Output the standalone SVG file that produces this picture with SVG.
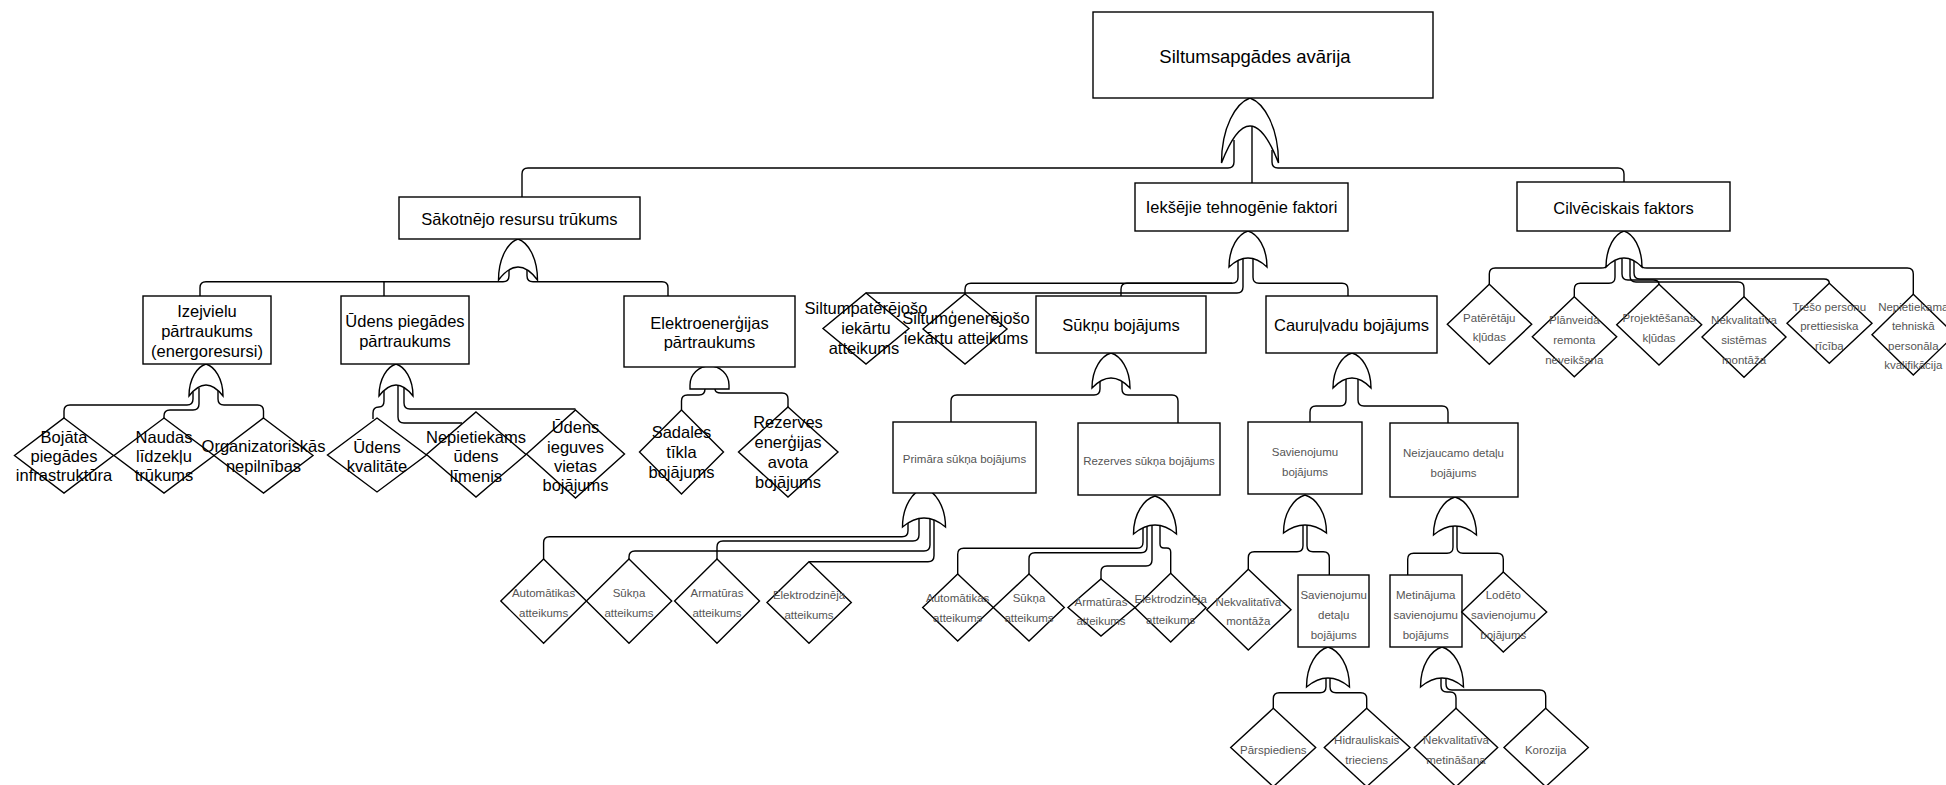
<svg xmlns="http://www.w3.org/2000/svg" width="1946" height="785" viewBox="0 0 1946 785">
<style>
.n{fill:#fff;stroke:#000;stroke-width:1.4}
.e{fill:none;stroke:#000;stroke-width:1.4}
.L{font-family:"Liberation Sans",Arial,sans-serif;font-size:16.5px;text-anchor:middle;fill:#000}
.S{font-family:"Liberation Sans",Arial,sans-serif;font-size:11.5px;text-anchor:middle;fill:#555}
</style>
<rect width="1946" height="785" fill="#fff"/>
<g id="connectors">
<path class="e" d="M522 197V174Q522 168 528 168H1228Q1234 168 1234 162V140"/>
<path class="e" d="M1252 126V183"/>
<path class="e" d="M1272 150V162Q1272 168 1278 168H1618Q1624 168 1624 174V182"/>
<path class="e" d="M200 296V287.7Q200 281.7 206 281.7H503Q509 281.7 509 275.7V270"/>
<path class="e" d="M384 296V281.7"/>
<path class="e" d="M527 270V275.7Q527 281.7 533 281.7H662Q668 281.7 668 287.7V296"/>
<path class="e" d="M64 418V411Q64 405 70 405H187Q193 405 193 399V392"/>
<path class="e" d="M164 418V416Q164 410 170 410H193Q199 410 199 404V388"/>
<path class="e" d="M263.5 418V411Q263.5 405 257.5 405H224Q218 405 218 399V391"/>
<path class="e" d="M373 419V413Q373 407 379 407Q384 407 384 401V391"/>
<path class="e" d="M398 386V417Q398 423 404 423H462"/>
<path class="e" d="M404 387V403Q404 409 410 409H575.5"/>
<path class="e" d="M705 389Q705 395 699 395H687.5Q681.5 395 681.5 401V410"/>
<path class="e" d="M715 389Q715 393 721 393H782Q788 393 788 399V407"/>
<path class="e" d="M866 293H1237Q1243 293 1243 287V259"/>
<path class="e" d="M965 294V289.3Q965 283.3 971 283.3H1232Q1238 283.3 1238 277.3V260"/>
<path class="e" d="M1121 296V289.3Q1121 283.3 1127 283.3H1232"/>
<path class="e" d="M1253 259V277.3Q1253 283.3 1259 283.3H1342Q1348 283.3 1348 289.3V296"/>
<path class="e" d="M1489.3 284.3V274Q1489.3 268 1495.3 268H1601Q1607 268 1607 265"/>
<path class="e" d="M1574.3 296.7V289.3Q1574.3 283.3 1580.3 283.3H1609Q1615 283.3 1615 277.3V261"/>
<path class="e" d="M1659 284.3Q1659 280 1653 280H1628Q1622 280 1622 274V259"/>
<path class="e" d="M1744 296.7V288Q1744 282 1738 282H1636Q1630 282 1630 276V259"/>
<path class="e" d="M1829.3 283.3Q1829.3 279 1824 279H1640Q1634 279 1634 273V261"/>
<path class="e" d="M1913.3 294.3V274Q1913.3 268 1907.3 268H1647Q1641 268 1641 265"/>
<path class="e" d="M1100 381V389Q1100 395 1094 395H957Q951 395 951 401V422"/>
<path class="e" d="M1122 381V389Q1122 395 1128 395H1172Q1178 395 1178 401V423"/>
<path class="e" d="M1346 379V400Q1346 406 1340 406H1316Q1310 406 1310 412V422"/>
<path class="e" d="M1358 379V400Q1358 406 1364 406H1442Q1448 406 1448 412V423"/>
<path class="e" d="M543.6 559V542.7Q543.6 536.7 549.6 536.7H902Q908 536.7 908 530.7V523"/>
<path class="e" d="M717 559V547Q717 541 723 541H913Q919 541 919 535V519"/>
<path class="e" d="M629 559V557Q629 551 635 551H924Q930 551 930 545V519"/>
<path class="e" d="M809 561.7H928Q934 561.7 934 555.7V520"/>
<path class="e" d="M957.7 574V554.3Q957.7 548.3 963.7 548.3H1137Q1143 548.3 1143 542.3V528"/>
<path class="e" d="M1029 574V558.7Q1029 552.7 1035 552.7H1141Q1147 552.7 1147 546.7V526"/>
<path class="e" d="M1101 579V572Q1101 566 1107 566H1146Q1152 566 1152 560V525"/>
<path class="e" d="M1160 526V544Q1160 548 1164 548H1166.7Q1170.7 548 1170.7 552V573.3"/>
<path class="e" d="M1303 525V545.7Q1303 551.7 1297 551.7H1254.3Q1248.3 551.7 1248.3 557.7V569"/>
<path class="e" d="M1307 525V545.7Q1307 551.7 1313 551.7H1323.3Q1329.3 551.7 1329.3 557.7V575"/>
<path class="e" d="M1453 526V547.3Q1453 553.3 1447 553.3H1413.7Q1407.7 553.3 1407.7 559.3V575"/>
<path class="e" d="M1457 526V547.3Q1457 553.3 1463 553.3H1497.3Q1503.3 553.3 1503.3 559.3V572"/>
<path class="e" d="M1326 678V686.7Q1326 692.7 1320 692.7H1279.3Q1273.3 692.7 1273.3 698.7V708"/>
<path class="e" d="M1330 678V686.7Q1330 692.7 1336 692.7H1360.7Q1366.7 692.7 1366.7 698.7V708"/>
<path class="e" d="M1441 678V686Q1441 692 1447 692H1450Q1456 692 1456 698V708"/>
<path class="e" d="M1446 678V684Q1446 690 1452 690H1539.7Q1545.7 690 1545.7 696V708"/>
</g>
<g id="gates">
<path id="g-top" class="n" d="M1221.5 163C1221.5 127.25 1235.75 103.2 1250 98C1264.25 103.2 1278.5 127.25 1278.5 163Q1250 89 1221.5 163Z"/>
<path id="g-sak" class="n" d="M498.5 280C498.5 257.45 508.25 242.3 518 239C527.75 242.3 537.5 257.45 537.5 280Q518 254 498.5 280Z"/>
<path id="g-izej" class="n" d="M189 396C189 378.4 197.5 366.6 206 364C214.5 366.6 223 378.4 223 396Q206 374 189 396Z"/>
<path id="g-uden" class="n" d="M379 396C379 378.4 387.5 366.6 396 364C404.5 366.6 413 378.4 413 396Q396 374 379 396Z"/>
<path id="g-elek" class="n" d="M690 389V385A19.5 19 0 0 1 729 385V389Z"/>
<path id="g-iek" class="n" d="M1229 267C1229 247.2 1238.5 233.9 1248 231C1257.5 233.9 1267 247.2 1267 267Q1248 249 1229 267Z"/>
<path id="g-cilv" class="n" d="M1606 267C1606 247.2 1615 233.9 1624 231C1633 233.9 1642 247.2 1642 267Q1624 249 1606 267Z"/>
<path id="g-suk" class="n" d="M1092 388C1092 368.75 1101.5 355.8 1111 353C1120.5 355.8 1130 368.75 1130 388Q1111 368 1092 388Z"/>
<path id="g-caur" class="n" d="M1333 388C1333 368.75 1342.5 355.8 1352 353C1361.5 355.8 1371 368.75 1371 388Q1352 368 1333 388Z"/>
<path id="g-prim" class="n" d="M902.5 527C902.5 505.55 913.25 491.1 924 488C934.75 491.1 945.5 505.55 945.5 527Q924 509 902.5 527Z"/>
<path id="g-rez" class="n" d="M1133.5 534C1133.5 513.1 1144.25 499 1155 496C1165.75 499 1176.5 513.1 1176.5 534Q1155 516 1133.5 534Z"/>
<path id="g-sav" class="n" d="M1283.5 533C1283.5 512.1 1294.25 498 1305 495C1315.75 498 1326.5 512.1 1326.5 533Q1305 517 1283.5 533Z"/>
<path id="g-neiz" class="n" d="M1433.5 535C1433.5 514.1 1444.25 500 1455 497C1465.75 500 1476.5 514.1 1476.5 535Q1455 517 1433.5 535Z"/>
<path id="g-savdet" class="n" d="M1306.5 687C1306.5 665 1317.25 650.2 1328 647C1338.75 650.2 1349.5 665 1349.5 687Q1328 669 1306.5 687Z"/>
<path id="g-met" class="n" d="M1420.5 687C1420.5 665 1431.25 650.2 1442 647C1452.75 650.2 1463.5 665 1463.5 687Q1442 669 1420.5 687Z"/>
</g>
<g id="n-top"><rect class="n" x="1093" y="12" width="340" height="86"/><text class="L" x="1255" y="62.5" style="font-size:18.5px">Siltumsapgādes avārija</text></g>
<g id="n-sak"><rect class="n" x="399" y="197" width="241" height="42"/><text class="L" x="519.5" y="224.5">Sākotnējo resursu trūkums</text></g>
<g id="n-iek"><rect class="n" x="1135" y="183" width="213" height="48"/><text class="L" x="1241.5" y="212.5">Iekšējie tehnogēnie faktori</text></g>
<g id="n-cilv"><rect class="n" x="1517" y="182" width="213" height="49"/><text class="L" x="1623.5" y="213.5">Cilvēciskais faktors</text></g>
<g id="n-izej"><rect class="n" x="143" y="296" width="128" height="68"/><text class="L" x="207"><tspan x="207" y="316.5">Izejvielu</tspan><tspan x="207" y="336.5">pārtraukums</tspan><tspan x="207" y="356.5">(energoresursi)</tspan></text></g>
<g id="n-uden"><rect class="n" x="341" y="296" width="128" height="68"/><text class="L"><tspan x="405" y="326.5">Ūdens piegādes</tspan><tspan x="405" y="346.5">pārtraukums</tspan></text></g>
<g id="n-elek"><rect class="n" x="624" y="296" width="171" height="71"/><text class="L"><tspan x="709.5" y="328.5">Elektroenerģijas</tspan><tspan x="709.5" y="348.3">pārtraukums</tspan></text></g>
<g id="n-bojata"><polygon class="n" points="64,418 113.5,455.5 64,493 14.5,455.5"/><text class="L"><tspan x="64" y="443">Bojāta</tspan><tspan x="64" y="462">piegādes</tspan><tspan x="64" y="481">infrastruktūra</tspan></text></g>
<g id="n-naudas"><polygon class="n" points="164,418 214,455.5 164,493 114,455.5"/><text class="L"><tspan x="164" y="443">Naudas</tspan><tspan x="164" y="462">līdzekļu</tspan><tspan x="164" y="481">trūkums</tspan></text></g>
<g id="n-org"><polygon class="n" points="263.5,418 313,455.5 263.5,493 214,455.5"/><text class="L"><tspan x="263.5" y="452.3">Organizatoriskās</tspan><tspan x="263.5" y="471.8">nepilnības</tspan></text></g>
<g id="n-udkval"><polygon class="n" points="377,418 426.5,455 377,492 327.5,455"/><text class="L"><tspan x="377" y="452.8">Ūdens</tspan><tspan x="377" y="472.3">kvalitāte</tspan></text></g>
<g id="n-nepiet"><polygon class="n" points="476,412 526,454.5 476,497 426.5,454.5"/><text class="L"><tspan x="476" y="442.8">Nepietiekams</tspan><tspan x="476" y="462.3">ūdens</tspan><tspan x="476" y="481.8">līmenis</tspan></text></g>
<g id="n-udieg"><polygon class="n" points="575.5,410 624.5,454 575.5,498 526.5,454"/><text class="L"><tspan x="575.5" y="432.8">Ūdens</tspan><tspan x="575.5" y="452.8">ieguves</tspan><tspan x="575.5" y="471.8">vietas</tspan><tspan x="575.5" y="491.3">bojājums</tspan></text></g>
<g id="n-sadales"><polygon class="n" points="681.5,410 723.5,452 681.5,494 639.5,452"/><text class="L"><tspan x="681.5" y="437.8">Sadales</tspan><tspan x="681.5" y="457.8">tīkla</tspan><tspan x="681.5" y="477.8">bojājums</tspan></text></g>
<g id="n-rezen"><polygon class="n" points="788,407 838,452 788,497 738.5,452"/><text class="L"><tspan x="788" y="427.8">Rezerves</tspan><tspan x="788" y="448.3">enerģijas</tspan><tspan x="788" y="468.3">avota</tspan><tspan x="788" y="487.8">bojājums</tspan></text></g>
<g id="n-siltpat"><polygon class="n" points="866,293 909,328.5 866,364 823,328.5"/><text class="L"><tspan x="866" y="314.3">Siltumpatērējošo</tspan><tspan x="866" y="333.8">iekārtu</tspan><tspan x="864" y="353.8">atteikums</tspan></text></g>
<g id="n-siltgen"><polygon class="n" points="965,294 1007,329 965,364 923,329"/><text class="L"><tspan x="966" y="324.3">Siltumģenerējošo</tspan><tspan x="966" y="344.3">iekārtu atteikums</tspan></text></g>
<g id="n-suk"><rect class="n" x="1036" y="296" width="170" height="57"/><text class="L" x="1121" y="330.8">Sūkņu bojājums</text></g>
<g id="n-caur"><rect class="n" x="1266" y="296" width="171" height="57"/><text class="L" x="1351.5" y="330.8">Cauruļvadu bojājums</text></g>
<g id="n-prim"><rect class="n" x="893" y="422" width="143" height="71"/><text class="S" x="964.5" y="463">Primāra sūkņa bojājums</text></g>
<g id="n-rez"><rect class="n" x="1078" y="423" width="142" height="72"/><text class="S" x="1149" y="465">Rezerves sūkņa bojājums</text></g>
<g id="n-sav"><rect class="n" x="1248" y="422" width="114" height="72"/><text class="S"><tspan x="1305" y="455.6">Savienojumu</tspan><tspan x="1305" y="475.6">bojājums</tspan></text></g>
<g id="n-neiz"><rect class="n" x="1390" y="423" width="128" height="74"/><text class="S"><tspan x="1453.5" y="457.2">Neizjaucamo detaļu</tspan><tspan x="1453.5" y="477.2">bojājums</tspan></text></g>
<g id="n-p-aut"><polygon class="n" points="543.6,559 586.4,601 543.6,643.3 500.8,601"/><text class="S"><tspan x="543.6" y="597.2">Automātikas</tspan><tspan x="543.6" y="617.2">atteikums</tspan></text></g>
<g id="n-p-suk"><polygon class="n" points="629,559 671.7,601 629,643.3 586.4,601"/><text class="S"><tspan x="629" y="597.2">Sūkņa</tspan><tspan x="629" y="617.2">atteikums</tspan></text></g>
<g id="n-p-arm"><polygon class="n" points="717,559 759.5,601 717,643.3 674.6,601"/><text class="S"><tspan x="717" y="597.2">Armatūras</tspan><tspan x="717" y="617.2">atteikums</tspan></text></g>
<g id="n-p-elek"><polygon class="n" points="809,561.7 851.3,602.5 809,643.3 767,602.5"/><text class="S"><tspan x="809" y="598.9">Elektrodzinēja</tspan><tspan x="809" y="618.9">atteikums</tspan></text></g>
<g id="n-r-aut"><polygon class="n" points="957.7,574 993.3,607.5 957.7,641 922.7,607.5"/><text class="S"><tspan x="957.7" y="602.2">Automātikas</tspan><tspan x="957.7" y="622.2">atteikums</tspan></text></g>
<g id="n-r-suk"><polygon class="n" points="1029,574 1064.3,607.5 1029,641 993.3,607.5"/><text class="S"><tspan x="1029" y="602.2">Sūkņa</tspan><tspan x="1029" y="622.2">atteikums</tspan></text></g>
<g id="n-r-arm"><polygon class="n" points="1101,579 1135,607.5 1101,636 1068,607.5"/><text class="S"><tspan x="1101" y="605.6">Armatūras</tspan><tspan x="1101" y="624.6">atteikums</tspan></text></g>
<g id="n-r-elek"><polygon class="n" points="1170.7,573.3 1206,607.7 1170.7,642 1135,607.7"/><text class="S"><tspan x="1170.7" y="602.9">Elektrodzinēja</tspan><tspan x="1170.7" y="623.9">atteikums</tspan></text></g>
<g id="n-nekmont"><polygon class="n" points="1248.3,569.3 1291,609.7 1248.3,650 1206.7,609.7"/><text class="S"><tspan x="1248.3" y="605.6">Nekvalitatīva</tspan><tspan x="1248.3" y="624.9">montāža</tspan></text></g>
<g id="n-savdet"><rect class="n" x="1298" y="575" width="71" height="72"/><text class="S"><tspan x="1333.7" y="598.9">Savienojumu</tspan><tspan x="1333.7" y="618.9">detaļu</tspan><tspan x="1333.7" y="638.9">bojājums</tspan></text></g>
<g id="n-met"><rect class="n" x="1390" y="575" width="72" height="72"/><text class="S"><tspan x="1425.7" y="598.9">Metinājuma</tspan><tspan x="1425.7" y="618.9">savienojumu</tspan><tspan x="1425.7" y="638.9">bojājums</tspan></text></g>
<g id="n-lod"><polygon class="n" points="1503.3,572 1546.7,612 1503.3,652 1461.7,612"/><text class="S"><tspan x="1503.3" y="598.9">Lodēto</tspan><tspan x="1503.3" y="618.9">savienojumu</tspan><tspan x="1503.3" y="638.9">bojājums</tspan></text></g>
<g id="n-parsp"><polygon class="n" points="1273.3,708.3 1315.7,747.5 1273.3,786.7 1230.7,747.5"/><text class="S" x="1273.3" y="753.9">Pārspiediens</text></g>
<g id="n-hidr"><polygon class="n" points="1366.7,708.3 1410,747.5 1366.7,786.7 1324.3,747.5"/><text class="S"><tspan x="1366.7" y="743.9">Hidrauliskais</tspan><tspan x="1366.7" y="763.9">trieciens</tspan></text></g>
<g id="n-nekmet"><polygon class="n" points="1456,708.3 1497.7,747.5 1456,786.7 1414.3,747.5"/><text class="S"><tspan x="1456" y="743.9">Nekvalitatīva</tspan><tspan x="1456" y="763.9">metināšana</tspan></text></g>
<g id="n-koroz"><polygon class="n" points="1545.7,708.3 1588.3,747.5 1545.7,786.7 1504,747.5"/><text class="S" x="1545.7" y="753.9">Korozija</text></g>
<g id="n-pat"><polygon class="n" points="1489.3,284.3 1531.7,324.3 1489.3,364.3 1447.3,324.3"/><text class="S"><tspan x="1489.3" y="321.6">Patērētāju</tspan><tspan x="1489.3" y="340.6">kļūdas</tspan></text></g>
<g id="n-plan"><polygon class="n" points="1574.3,296.7 1616.7,336.7 1574.3,376.7 1532.3,336.7"/><text class="S"><tspan x="1574.3" y="323.9">Plānveida</tspan><tspan x="1574.3" y="343.9">remonta</tspan><tspan x="1574.3" y="363.9">neveikšana</tspan></text></g>
<g id="n-proj"><polygon class="n" points="1659,284.3 1701.7,324.7 1659,365 1616.7,324.7"/><text class="S"><tspan x="1659" y="321.6">Projektēšanas</tspan><tspan x="1659" y="341.6">kļūdas</tspan></text></g>
<g id="n-nekval"><polygon class="n" points="1744,296.7 1786,337 1744,377.3 1702,337"/><text class="S"><tspan x="1744" y="323.9">Nekvalitatīva</tspan><tspan x="1744" y="343.9">sistēmas</tspan><tspan x="1744" y="363.9">montāža</tspan></text></g>
<g id="n-treso"><polygon class="n" points="1829.3,283.3 1872,323.3 1829.3,363.3 1787,323.3"/><text class="S"><tspan x="1829.3" y="310.6">Trešo personu</tspan><tspan x="1829.3" y="329.9">prettiesiska</tspan><tspan x="1829.3" y="349.6">rīcība</tspan></text></g>
<g id="n-nepkv"><polygon class="n" points="1913.3,294.3 1955,334.7 1913.3,375 1872,334.7"/><text class="S"><tspan x="1913.3" y="310.6">Nepietiekama</tspan><tspan x="1913.3" y="330.4">tehniskā</tspan><tspan x="1913.3" y="349.9">personāla</tspan><tspan x="1913.3" y="369.4">kvalifikācija</tspan></text></g>
</svg>
